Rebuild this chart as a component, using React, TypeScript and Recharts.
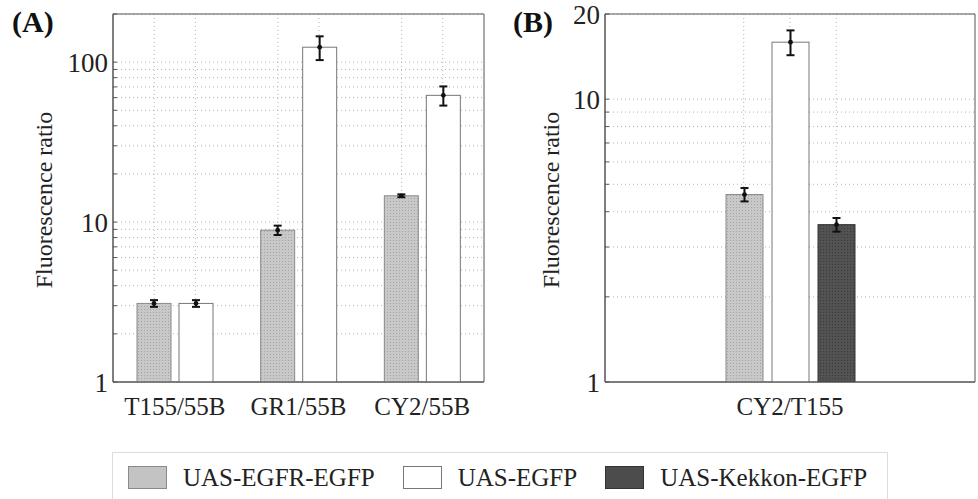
import React from 'react';
import { BarChart, Bar, XAxis, YAxis, CartesianGrid, ErrorBar, ReferenceArea } from 'recharts';

// panel A: three ratios, two constructs
const groupsA = ['T155/55B', 'GR1/55B', 'CY2/55B'];
const egfrA = [3.1, 8.9, 14.6];
const egfrErrA = [0.15, 0.6, 0.3];
const egfpA = [3.1, 124, 62];
const egfpErrA = [0.15, 21, 8.5];

// panel B: one ratio, three constructs
const groupsB = ['CY2/T155'];
const egfrB = [4.6];
const egfrErrB = [0.25];
const egfpB = [15.9];
const egfpErrB = [1.6];
const kekkonB = [3.6];
const kekkonErrB = [0.2];

const labelTicksA = [1, 10, 100];
const allTicksA = [1, 2, 3, 4, 5, 6, 7, 8, 9, 10, 20, 30, 40, 50, 60, 70, 80, 90, 100, 200];
const labelTicksB = [1, 10, 20];
const allTicksB = [1, 2, 3, 4, 5, 6, 7, 8, 9, 10, 20];
// dotted vertical grid, in slots of the plot width
const gridColsA = [1, 2, 4, 5, 7, 8];
const gridColsB = [3, 4, 5];

const series = [
    { key: 'egfr', name: 'UAS-EGFR-EGFP', fill: 'url(#texGray)', swatch: '#c3c3c3', stroke: '#8a8a8a', axis: 'left' },
    { key: 'egfp', name: 'UAS-EGFP', fill: '#ffffff', swatch: '#ffffff', stroke: '#777777', axis: 'right' },
    { key: 'kekkon', name: 'UAS-Kekkon-EGFP', fill: 'url(#texDark)', swatch: '#4c4c4c', stroke: '#333333', axis: 'right' },
];

const dataA = groupsA.map((g, i) => ({
    group: g,
    egfr: egfrA[i],
    egfrErr: egfrErrA[i],
    egfp: egfpA[i],
    egfpErr: egfpErrA[i],
}));

const dataB = groupsB.map((g, i) => ({
    group: g,
    egfr: egfrB[i],
    egfrErr: egfrErrB[i],
    egfp: egfpB[i],
    egfpErr: egfpErrB[i],
    kekkon: kekkonB[i],
    kekkonErr: kekkonErrB[i],
}));

const FONT = "'Liberation Serif', 'DejaVu Serif', serif";
const AXIS = '#555555';

// bar with the little black marker at its top
const BarWithDot = (props: any) => {
    const { x, y, width, height, fill, stroke } = props;
    if (height == null || isNaN(height)) return null;
    return (
        <g>
            <rect x={x} y={y} width={width} height={height} fill={fill} stroke={stroke} strokeWidth={1} />
            <circle cx={x + width / 2} cy={y} r={2.4} fill="#111" />
        </g>
    );
};

function Panel({ data, keys, labelTicks, allTicks, gridCols, slots, yMax, barSize, barGap, width, marginLeft, marginRight }: any) {
    return (
        <BarChart
            width={width}
            height={440}
            data={data}
            barSize={barSize}
            barGap={barGap}
            baseValue="dataMin"
            margin={{ top: 14, right: marginRight, bottom: 18, left: marginLeft }}
        >
            <defs>
                <pattern id="texGray" width="3" height="3" patternUnits="userSpaceOnUse">
                    <rect width="3" height="3" fill="#c8c8c8" />
                    <rect width="1" height="1" fill="#a4a4a4" />
                </pattern>
                <pattern id="texDark" width="3" height="3" patternUnits="userSpaceOnUse">
                    <rect width="3" height="3" fill="#525252" />
                    <rect width="1" height="1" fill="#3a3a3a" />
                </pattern>
            </defs>
            <CartesianGrid
                yAxisId="left"
                stroke="#b4b4b4"
                strokeDasharray="1 3"
                verticalCoordinatesGenerator={({ offset }: any) =>
                    gridCols.map((c: number) => offset.left + (offset.width * c) / slots)
                }
            />
            <XAxis
                dataKey="group"
                height={40}
                tickLine={false}
                tickSize={0}
                tickMargin={15}
                axisLine={{ stroke: AXIS }}
                tick={{ fontFamily: FONT, fontSize: 25, fill: '#222' }}
            />
            <YAxis
                yAxisId="left"
                type="number"
                scale="log"
                domain={[1, yMax]}
                allowDataOverflow
                ticks={allTicks}
                interval={0}
                tickFormatter={(v: number) => (labelTicks.includes(v) ? String(v) : '')}
                width={60}
                tickSize={-4}
                tickMargin={9}
                tickLine={{ stroke: AXIS }}
                axisLine={{ stroke: AXIS }}
                tick={{ fontFamily: FONT, fontSize: 27, fill: '#222' }}
            />
            <YAxis
                yAxisId="right"
                orientation="right"
                type="number"
                scale="log"
                domain={[1, yMax]}
                allowDataOverflow
                ticks={allTicks}
                interval={0}
                width={0}
                tick={false}
                tickSize={-4}
                tickLine={{ stroke: AXIS }}
                axisLine={{ stroke: AXIS }}
            />
            <ReferenceArea
                yAxisId="left"
                y1={1}
                y2={yMax}
                fill="none"
                stroke={AXIS}
                strokeWidth={1}
                ifOverflow="visible"
            />
            {series
                .filter((s) => keys.includes(s.key))
                .map((s) => (
                    <Bar
                        key={s.key}
                        yAxisId={s.axis}
                        dataKey={s.key}
                        name={s.name}
                        fill={s.fill}
                        stroke={s.stroke}
                        shape={BarWithDot}
                        isAnimationActive={false}
                    >
                        <ErrorBar dataKey={`${s.key}Err`} width={4} strokeWidth={2} stroke="#111" direction="y" />
                    </Bar>
                ))}
        </BarChart>
    );
}

const yTitleStyle = (cx: number): React.CSSProperties => ({
    position: 'absolute',
    left: cx,
    top: 200,
    transform: 'translate(-50%, -50%) rotate(-90deg)',
    whiteSpace: 'nowrap',
    fontFamily: FONT,
    fontSize: 24,
    color: '#222',
});

const panelTag: React.CSSProperties = {
    position: 'absolute',
    top: 7,
    fontFamily: FONT,
    fontWeight: 'bold',
    fontSize: 30,
    lineHeight: 1,
    color: '#111',
};

export default function App() {
    return (
        <div style={{ position: 'fixed', left: 0, top: 0, width: 978, height: 499, background: '#fff', overflow: 'hidden' }}>
            <div style={{ position: 'absolute', left: 0, top: 0 }}>
                <Panel
                    data={dataA}
                    keys={['egfr', 'egfp']}
                    labelTicks={labelTicksA}
                    allTicks={allTicksA}
                    gridCols={gridColsA}
                    slots={9}
                    yMax={200}
                    barSize={34}
                    barGap={8}
                    width={490}
                    marginLeft={53}
                    marginRight={6}
                />
            </div>
            <div style={{ position: 'absolute', left: 490, top: 0 }}>
                <Panel
                    data={dataB}
                    keys={['egfr', 'egfp', 'kekkon']}
                    labelTicks={labelTicksB}
                    allTicks={allTicksB}
                    gridCols={gridColsB}
                    slots={8}
                    yMax={20}
                    barSize={37}
                    barGap={9}
                    width={488}
                    marginLeft={55}
                    marginRight={3}
                />
            </div>
            <div style={{ ...panelTag, left: 12 }}>(A)</div>
            <div style={{ ...panelTag, left: 513 }}>(B)</div>
            <div style={yTitleStyle(44)}>Fluorescence ratio</div>
            <div style={yTitleStyle(551)}>Fluorescence ratio</div>
            <div
                style={{
                    position: 'absolute',
                    left: 112,
                    top: 452,
                    width: 776,
                    height: 70,
                    border: '1px solid #dcdcdc',
                    boxSizing: 'border-box',
                    display: 'flex',
                    alignItems: 'flex-start',
                    paddingLeft: 15,
                    paddingTop: 12,
                    fontFamily: FONT,
                    fontSize: 25,
                    color: '#222',
                    whiteSpace: 'nowrap',
                }}
            >
                {series.map((s) => (
                    <div key={s.key} style={{ display: 'flex', alignItems: 'center', marginRight: 28, height: 24, flexShrink: 0 }}>
                        <div
                            style={{
                                width: 37,
                                height: 21,
                                background: s.swatch,
                                border: `1px solid ${s.stroke}`,
                                marginRight: 16,
                                flexShrink: 0,
                            }}
                        />
                        <span style={{ lineHeight: 1 }}>{s.name}</span>
                    </div>
                ))}
            </div>
        </div>
    );
}
